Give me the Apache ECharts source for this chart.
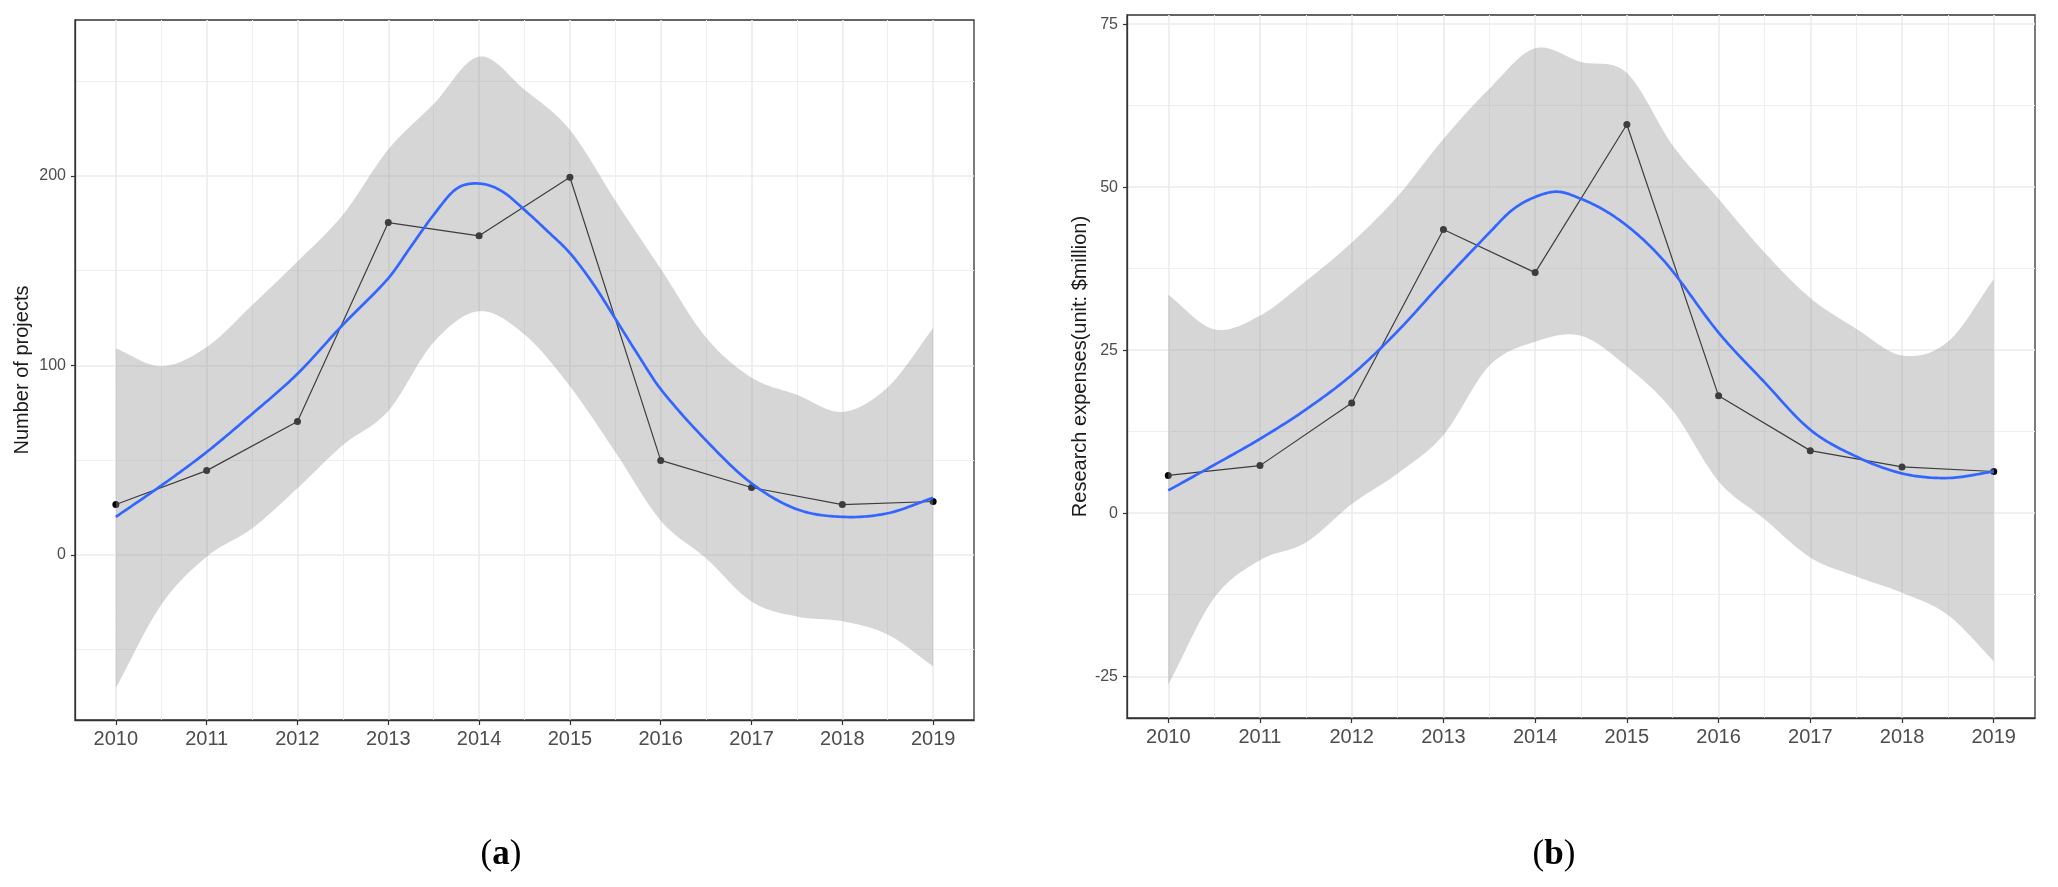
<!DOCTYPE html>
<html>
<head>
<meta charset="utf-8">
<script src="https://cdn.jsdelivr.net/npm/echarts@6.0.0/dist/echarts.min.js"></script>
<style>html,body{margin:0;padding:0;background:#fff}#c{width:2058px;height:887px}</style>
</head>
<body>
<div id="c"></div>
<script>
// ---- data ----
const years = [2010, 2011, 2012, 2013, 2014, 2015, 2016, 2017, 2018, 2019];
const minorYears = [2010.5, 2011.5, 2012.5, 2013.5, 2014.5, 2015.5, 2016.5, 2017.5, 2018.5];

// panel (a): number of projects
const projects = [26.6, 44.5, 70.4, 175.4, 168.4, 199.3, 49.9, 35.6, 26.6, 28.2];
const bandX = [2010, 2010.5, 2011, 2011.5, 2012, 2012.5, 2013, 2013.5, 2014, 2014.5, 2015, 2015.5, 2016, 2016.5, 2017, 2017.5, 2018, 2018.5, 2019];
const projUpper = [109, 99.6, 109.7, 131.8, 154.9, 179.5, 214, 238, 263, 245.5, 224.3, 187, 151, 114.7, 93.6, 84.5, 75.5, 88.5, 119.7];
const projLower = [-70.2, -26.3, -0.9, 14, 35.2, 58, 76, 112.3, 128.6, 116.3, 89, 54.3, 18.1, -1.8, -24.6, -32.5, -35, -42, -58.8];
const projFitX = [2010, 2010.5, 2011, 2011.5, 2012, 2012.5, 2013, 2013.25, 2013.5, 2013.75, 2014, 2014.25, 2014.5, 2014.75, 2015, 2015.25, 2015.5, 2015.75, 2016, 2016.5, 2017, 2017.5, 2018, 2018.5, 2019];
const projFitY = [20.1, 36.6, 54.3, 74.4, 95.6, 121.5, 146, 162.8, 179.5, 193.2, 196, 192, 182.1, 171, 159.3, 143.5, 124.7, 105.6, 87.5, 60.4, 37.8, 24.1, 20.1, 22, 30.2];
const projTicks = [0, 100, 200];
const projMinor = [-50, 50, 150, 250];

// panel (b): research expenses
const expenses = [5.8, 7.3, 16.9, 43.5, 36.9, 59.6, 18.0, 9.6, 7.1, 6.4];
const expUpper = [33.5, 28.2, 30.3, 35.6, 41.5, 48.6, 57.4, 65.1, 71.3, 69.2, 67.5, 56.4, 48.2, 40, 33, 28.3, 24.2, 26.3, 35.9];
const expLower = [-26.3, -13, -7.2, -4.5, 1.4, 6.1, 12, 22.6, 26.3, 27.2, 22.5, 15.7, 4.9, -0.9, -6.8, -9.7, -12.2, -15.6, -22.7];
const expFitX = [2010, 2010.5, 2011, 2011.5, 2012, 2012.5, 2013, 2013.5, 2013.75, 2014, 2014.25, 2014.5, 2014.75, 2015, 2015.25, 2015.5, 2016, 2016.5, 2017, 2017.5, 2018, 2018.5, 2019];
const expFitY = [3.5, 7.4, 11.4, 15.9, 21.2, 27.9, 35.6, 43, 46.5, 48.5, 49.3, 48.2, 46.5, 44.1, 41, 37.1, 27.7, 20.1, 12.8, 8.7, 6.1, 5.4, 6.4];
const expTicks = [-25, 0, 25, 50, 75];
const expMinor = [-12.5, 12.5, 37.5, 62.5];

// ---- chart ----
const FONT = "'Liberation Sans', Arial, sans-serif";
const XMIN = 2009.55, XMAX = 2019.45;

function xAxes(g) {
  return [
    { gridIndex: g, type: 'value', min: XMIN, max: XMAX, position: 'bottom',
      axisLine: { show: true, onZero: false, lineStyle: { color: '#333', width: 1.3 } },
      axisTick: { show: true, customValues: years, length: 5, lineStyle: { color: '#333', width: 1.2 } },
      axisLabel: { customValues: years, formatter: v => String(v), fontSize: 20, color: '#4d4d4d', margin: 9, fontFamily: FONT },
      splitLine: { show: true, lineStyle: { color: '#ebebeb', width: 1.6 } } },
    { gridIndex: g, type: 'value', min: XMIN, max: XMAX, position: 'bottom',
      axisLine: { show: false }, axisTick: { show: false, customValues: minorYears },
      axisLabel: { show: false, customValues: minorYears },
      splitLine: { show: true, lineStyle: { color: '#efefef', width: 1 } } }
  ];
}
function yAxes(g, min, max, ticks, minor, name, gap) {
  return [
    { gridIndex: g, type: 'value', min: min, max: max, position: 'left',
      name: name, nameLocation: 'middle', nameGap: gap, nameRotate: 90,
      nameTextStyle: { fontSize: 20, color: '#1a1a1a', fontFamily: FONT },
      axisLine: { show: true, onZero: false, lineStyle: { color: '#333', width: 1.3 } },
      axisTick: { show: true, customValues: ticks, length: 4, lineStyle: { color: '#333', width: 1.2 } },
      axisLabel: { customValues: ticks, fontSize: 16, color: '#4d4d4d', margin: 9, fontFamily: FONT },
      splitLine: { show: true, lineStyle: { color: '#ebebeb', width: 1.6 } } },
    { gridIndex: g, type: 'value', min: min, max: max, position: 'left',
      axisLine: { show: false }, axisTick: { show: false, customValues: minor },
      axisLabel: { show: false, customValues: minor },
      splitLine: { show: true, lineStyle: { color: '#efefef', width: 1 } } }
  ];
}

// cubic Hermite sampling through pixel points (x monotonic) for smooth curves
function hermite(pts) {
  const n = pts.length;
  const m = pts.map((p, i) => {
    const a = pts[Math.max(i - 1, 0)], b = pts[Math.min(i + 1, n - 1)];
    return (b[1] - a[1]) / (b[0] - a[0]);
  });
  const out = [pts[0]];
  for (let i = 0; i < n - 1; i++) {
    const p1 = pts[i], p2 = pts[i + 1], dx = p2[0] - p1[0];
    for (let k = 1; k <= 20; k++) {
      const t = k / 20, t2 = t * t, t3 = t2 * t;
      const h00 = 2*t3 - 3*t2 + 1, h10 = t3 - 2*t2 + t, h01 = -2*t3 + 3*t2, h11 = t3 - t2;
      out.push([p1[0] + dx * t, h00 * p1[1] + h10 * dx * m[i] + h01 * p2[1] + h11 * dx * m[i + 1]]);
    }
  }
  return out;
}

function panelSeries(xi, yi, vals, upper, lower, fitX, fitY) {
  return [
    { type: 'line', xAxisIndex: xi, yAxisIndex: yi, z: 2,
      data: years.map((x, i) => [x, vals[i]]),
      symbol: 'circle', symbolSize: 7, showSymbol: true,
      itemStyle: { color: '#000' }, lineStyle: { color: '#000', width: 1.2 } },
    { type: 'custom', xAxisIndex: xi, yAxisIndex: yi, z: 3, silent: true,
      data: bandX.map((x, i) => [x, lower[i], upper[i]]),
      encode: { x: 0, y: [1, 2] },
      renderItem: function (params, api) {
        if (params.dataIndex !== 0) return null;
        const up = bandX.map((x, i) => api.coord([x, upper[i]]));
        const lo = bandX.map((x, i) => api.coord([x, lower[i]])).reverse();
        const pts = hermite(up).concat(hermite(lo));
        return { type: 'polygon', shape: { points: pts }, style: { fill: 'rgba(153,153,153,0.4)' } };
      } },
    { type: 'custom', xAxisIndex: xi, yAxisIndex: yi, z: 4, silent: true,
      data: fitX.map((x, i) => [x, fitY[i]]),
      encode: { x: 0, y: 1 },
      renderItem: function (params, api) {
        if (params.dataIndex !== 0) return null;
        const pts = hermite(fitX.map((x, i) => api.coord([x, fitY[i]])));
        return { type: 'polyline', shape: { points: pts },
                 style: { fill: null, stroke: '#3366FF', lineWidth: 2.7, lineJoin: 'round' } };
      } }
  ];
}

const richLabel = {
  p: { fontFamily: "'Liberation Serif', 'DejaVu Serif', serif", fontSize: 35, fontWeight: 'normal', color: '#000' },
  b: { fontFamily: "'Liberation Serif', 'DejaVu Serif', serif", fontSize: 35, fontWeight: 'bold', color: '#000' }
};

const chart = echarts.init(document.getElementById('c'), null, { renderer: 'canvas' });
chart.setOption({
  animation: false,
  backgroundColor: '#fff',
  title: [
    { text: '{p|(}{b|a}{p|)}', left: 496, top: 832, textAlign: 'center', textStyle: { fontWeight: 'normal', rich: richLabel } },
    { text: '{p|(}{b|b}{p|)}', left: 1549, top: 832, textAlign: 'center', textStyle: { fontWeight: 'normal', rich: richLabel } }
  ],
  grid: [
    { left: 75, right: 1084, top: 20, bottom: 167, show: true, borderColor: '#333', borderWidth: 1.3, backgroundColor: 'transparent' },
    { left: 1127, right: 23, top: 15, bottom: 169, show: true, borderColor: '#333', borderWidth: 1.3, backgroundColor: 'transparent' }
  ],
  xAxis: [].concat(xAxes(0), xAxes(1)),
  yAxis: [].concat(
    yAxes(0, -87.1, 282.3, projTicks, projMinor, 'Number of projects', 43),
    yAxes(1, -31.4, 76.4, expTicks, expMinor, 'Research expenses(unit: $million)', 36)
  ),
  series: [].concat(
    panelSeries(0, 0, projects, projUpper, projLower, projFitX, projFitY),
    panelSeries(2, 2, expenses, expUpper, expLower, expFitX, expFitY)
  )
});
</script>
</body>
</html>
